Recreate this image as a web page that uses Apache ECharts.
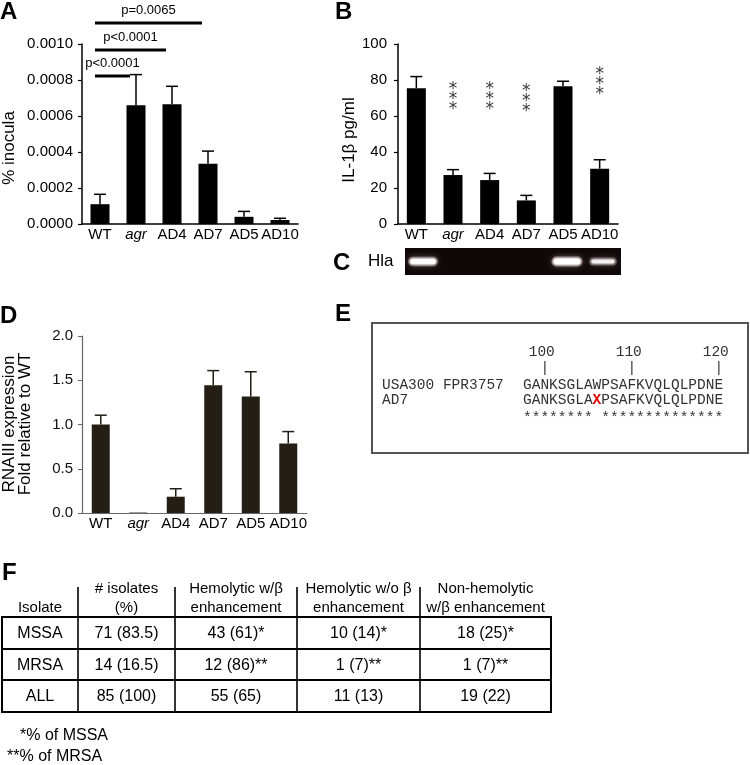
<!DOCTYPE html>
<html><head><meta charset="utf-8">
<script src="https://cdn.jsdelivr.net/npm/echarts@6/dist/echarts.min.js"></script>
<style>html,body{margin:0;padding:0;background:#fff}#c{width:750px;height:765px}</style>
</head><body><div id="c"></div>
<script>
// ---------- DATA ----------
const categories = ['WT', 'agr', 'AD4', 'AD7', 'AD5', 'AD10'];
// Panel A: % inocula (mean, SEM)
const inoculaMean = [0.00011, 0.00066, 0.000665, 0.000335, 0.00004, 0.000022];
const inoculaSem  = [0.000055, 0.00017, 0.0001, 0.00007, 0.00003, 0.00001];
const comparisonsA = ['agr', 'AD4', 'AD7'];
const comparisonLabelsA = ['p<0.0001', 'p<0.0001', 'p=0.0065'];
const comparisonLevelsA = [0.000822, 0.000967, 0.001117];
// Panel B: IL-1β pg/ml
const il1bMean = [75.4, 27.2, 24.4, 13.1, 76.5, 30.7];
const il1bSem  = [6.5, 3.0, 3.7, 2.8, 2.8, 5.0];
const il1bSig  = ['', '***', '***', '***', '', '***'];
const il1bSigLevel = [null, 71.5, 71.5, 70.5, null, 79.5];
// Panel C: Hla band intensity
const hlaIntensity = [0.85, 0, 0, 0, 1, 0.5];
// Panel D: RNAIII expression
const rnaMean = [1.0, 0.005, 0.184, 1.444, 1.316, 0.785];
const rnaSem  = [0.105, 0, 0.09, 0.165, 0.28, 0.135];
// Panel E: sequence alignment
const alignNames = ['USA300 FPR3757', 'AD7'];
const seqRef = 'GANKSGLAWPSAFKVQLQLPDNE';
const seqAD7 = 'GANKSGLAXPSAFKVQLQLPDNE';
const mutationIndex = 8;
const firstResidue = 98;
const rulerMarks = [100, 110, 120];
// Panel F: table
const tableHead1 = ['', '# isolates', 'Hemolytic w/β', 'Hemolytic w/o β', 'Non-hemolytic'];
const tableHead2 = ['Isolate', '(%)', 'enhancement', 'enhancement', 'w/β enhancement'];
const isolateTypes = ['MSSA', 'MRSA', 'ALL'];
const nIsolates = ['71 (83.5)', '14 (16.5)', '85 (100)'];
const hemWithBeta = ['43 (61)*', '12 (86)**', '55 (65)'];
const hemWithoutBeta = ['10 (14)*', '1 (7)**', '11 (13)'];
const nonHemWithBeta = ['18 (25)*', '1 (7)**', '19 (22)'];
const footnotes = ['*% of MSSA', '**% of MRSA'];

// ---------- STYLE ----------
const SANS = "'Liberation Sans', Arial, Helvetica, sans-serif";
const MONO = "'Liberation Mono', 'Courier New', monospace";

const chart = echarts.init(document.getElementById('c'), null, {renderer: 'canvas'});

function catLabel(fs) {
  return {
    fontSize: fs, color: '#000', fontFamily: SANS, margin: 3, interval: 0, hideOverlap: false,
    formatter: v => v === 'agr' ? '{i|agr}' : v,
    rich: {i: {fontStyle: 'italic', fontSize: fs, fontFamily: SANS, color: '#000'}}
  };
}
function errSeries(gi, means, sems, color, lw) {
  return {
    type: 'custom', xAxisIndex: gi, yAxisIndex: gi, z: 1,
    data: means.map((m, i) => [i, m, m + sems[i]]),
    encode: {x: 0, y: 2},
    renderItem: (params, api) => {
      const i = api.value(0), m = api.value(1), u = api.value(2);
      if (!(u > m)) return null;
      const b = api.coord([i, m]), t = api.coord([i, u]);
      return {type: 'group', children: [
        {type: 'line', shape: {x1: b[0], y1: b[1], x2: t[0], y2: t[1]}, style: {stroke: color, lineWidth: lw}},
        {type: 'line', shape: {x1: t[0] - 6, y1: t[1], x2: t[0] + 6, y2: t[1]}, style: {stroke: color, lineWidth: lw}}
      ]};
    }
  };
}

const option = {
  animation: false,
  backgroundColor: '#fff',
  grid: [
    {left: 82, top: 44, width: 216, height: 180},
    {left: 398, top: 44, width: 220, height: 180},
    {left: 405, top: 248, width: 216, height: 27, show: true, backgroundColor: '#0e0808', borderWidth: 0},
    {left: 82, top: 336, width: 225, height: 177}
  ],
  xAxis: [
    {gridIndex: 0, type: 'category', data: categories, axisLine: {lineStyle: {color: '#000', width: 1.5}}, axisTick: {show: false}, axisLabel: catLabel(15)},
    {gridIndex: 1, type: 'category', data: categories, axisLine: {lineStyle: {color: '#000', width: 1.5}}, axisTick: {show: false}, axisLabel: catLabel(15)},
    {gridIndex: 2, type: 'category', data: categories, show: false},
    {gridIndex: 3, type: 'category', data: categories, axisLine: {lineStyle: {color: '#666', width: 1.2}}, axisTick: {show: false}, axisLabel: catLabel(15)}
  ],
  yAxis: [
    {gridIndex: 0, type: 'value', min: 0, max: 0.001, interval: 0.0002, splitLine: {show: false},
      axisLine: {show: true, lineStyle: {color: '#000', width: 1.5}}, axisTick: {show: true, length: 4, lineStyle: {color: '#000', width: 1.2}},
      axisLabel: {fontSize: 15, color: '#000', fontFamily: SANS, margin: 9, formatter: v => v.toFixed(4)}},
    {gridIndex: 1, type: 'value', min: 0, max: 100, interval: 20, splitLine: {show: false},
      axisLine: {show: true, lineStyle: {color: '#000', width: 1.5}}, axisTick: {show: true, length: 4, lineStyle: {color: '#000', width: 1.2}},
      axisLabel: {fontSize: 15, color: '#000', fontFamily: SANS, margin: 11}},
    {gridIndex: 2, type: 'value', min: 0, max: 1, show: false},
    {gridIndex: 3, type: 'value', min: 0, max: 2, interval: 0.5, splitLine: {show: false},
      axisLine: {show: true, lineStyle: {color: '#666', width: 1.2}}, axisTick: {show: true, length: 4, lineStyle: {color: '#666', width: 1}},
      axisLabel: {fontSize: 15, color: '#111', fontFamily: SANS, margin: 9, formatter: v => v.toFixed(1)}}
  ],
  series: [
    {type: 'bar', xAxisIndex: 0, yAxisIndex: 0, data: inoculaMean, barWidth: 19, itemStyle: {color: '#000'}, z: 2},
    errSeries(0, inoculaMean, inoculaSem, '#000', 1.5),
    {type: 'bar', xAxisIndex: 1, yAxisIndex: 1, data: il1bMean, barWidth: 19, itemStyle: {color: '#000'}, z: 2},
    errSeries(1, il1bMean, il1bSem, '#000', 1.5),
    {type: 'scatter', xAxisIndex: 1, yAxisIndex: 1, symbolSize: 0,
      data: il1bSig.map((s, i) => s ? {value: [i, il1bSigLevel[i]], sig: s} : null).filter(Boolean),
      label: {show: true, position: 'inside', formatter: p => p.data.sig.split('').join('\n'), fontSize: 17, lineHeight: 10, color: '#000', fontFamily: "'DejaVu Sans', " + SANS, offset: [0, 4]}},
    {type: 'custom', xAxisIndex: 2, yAxisIndex: 2,
      data: hlaIntensity.map((v, i) => [i, v]), encode: {x: 0, y: 1},
      renderItem: (params, api) => {
        const v = api.value(1);
        if (!v) return null;
        const c = api.coord([api.value(0), 0.5]);
        const w = api.size([1, 0])[0] * (0.55 + 0.2 * v);
        const h = 2 + 4 * v;
        return {type: 'group', children: [
          {type: 'rect', shape: {x: c[0] - w / 2 - 2, y: c[1] - h / 2 - 2, width: w + 4, height: h + 4, r: (h + 4) / 2},
            style: {fill: 'rgba(255,225,225,' + (0.15 + 0.3 * v) + ')', shadowBlur: 6, shadowColor: 'rgba(255,220,220,0.7)'}},
          {type: 'rect', shape: {x: c[0] - w / 2, y: c[1] - h / 2, width: w, height: h, r: h / 2},
            style: {fill: 'rgba(255,255,255,' + (0.55 + 0.45 * v) + ')', shadowBlur: 3, shadowColor: '#fff'}}
        ]};
      }},
    {type: 'bar', xAxisIndex: 3, yAxisIndex: 3, data: rnaMean, barWidth: 18, itemStyle: {color: '#241f15'}, z: 2},
    errSeries(3, rnaMean, rnaSem, '#241f15', 1.5)
  ]
};
chart.setOption(option);

// ---------- GRAPHIC ANNOTATIONS ----------
const g = [];
function txt(x, y, text, o) {
  g.push({type: 'text', x: x, y: y, style: Object.assign({text: text, fill: '#000', font: '15px ' + SANS, align: 'left', verticalAlign: 'middle'}, o || {})});
}
[['A', 0, 12], ['B', 335, 12], ['C', 333, 263], ['D', 0, 316], ['E', 335, 314], ['F', 2, 573]].forEach(l =>
  txt(l[1], l[2], l[0], {font: 'bold 24px ' + SANS}));
function vname(x, y, text) {
  g.push({type: 'text', x: x, y: y, rotation: Math.PI / 2, style: {text: text, fill: '#000', font: '17px ' + SANS, align: 'center', verticalAlign: 'middle'}});
}
vname(9, 148, '% inocula');
vname(349, 140, 'IL-1β pg/ml');
vname(9, 424, 'RNAIII expression');
vname(25, 424, 'Fold relative to WT');
txt(368, 261, 'Hla', {font: '17px ' + SANS});

const px = (gi, x, y) => chart.convertToPixel({gridIndex: gi}, [x, y]);
comparisonsA.forEach((t, k) => {
  const a = px(0, 0, comparisonLevelsA[k]);
  const b = px(0, categories.indexOf(t), comparisonLevelsA[k]);
  const x1 = a[0] - 5, x2 = b[0] - 6, y = a[1];
  g.push({type: 'line', shape: {x1: x1, y1: y, x2: x2, y2: y}, style: {stroke: '#000', lineWidth: 3}});
  txt((x1 + x2) / 2, y - 13, comparisonLabelsA[k], {font: '13px ' + SANS, align: 'center'});
});

g.push({type: 'rect', shape: {x: 372, y: 323, width: 376, height: 130}, style: {fill: 'none', stroke: '#555', lineWidth: 2}});
const monoSize = 14.5, charW = monoSize * 0.6, seqX = 523;
rulerMarks.forEach(m => {
  const cx = seqX + (m - firstResidue + 0.5) * charW;
  txt(cx - 3, 352, String(m), {font: monoSize + 'px ' + MONO, fill: '#333', align: 'center'});
  txt(cx, 368, '|', {font: monoSize + 'px ' + MONO, fill: '#333', align: 'center'});
});
txt(382, 385, alignNames[0], {font: monoSize + 'px ' + MONO, fill: '#333'});
txt(382, 400, alignNames[1], {font: monoSize + 'px ' + MONO, fill: '#333'});
txt(seqX, 385, seqRef, {font: monoSize + 'px ' + MONO, fill: '#333'});
g.push({type: 'text', x: seqX, y: 400, style: {
  text: seqAD7.slice(0, mutationIndex) + '{m|' + seqAD7[mutationIndex] + '}' + seqAD7.slice(mutationIndex + 1),
  font: monoSize + 'px ' + MONO, fill: '#333', verticalAlign: 'middle',
  rich: {m: {fontFamily: MONO, fontSize: monoSize, fontWeight: 'bold', fill: '#e00000', color: '#e00000'}}}});
let stars = '';
for (let i = 0; i < seqRef.length; i++) stars += seqRef[i] === seqAD7[i] ? '*' : ' ';
txt(seqX, 418, stars, {font: monoSize + 'px ' + MONO, fill: '#333'});

const colX = [2, 78, 175, 297, 420, 551];
const rowY = [617, 649, 680, 712];
g.push({type: 'rect', shape: {x: colX[0], y: rowY[0], width: colX[5] - colX[0], height: rowY[3] - rowY[0]}, style: {fill: 'none', stroke: '#000', lineWidth: 2}});
[rowY[1], rowY[2]].forEach(y => g.push({type: 'line', shape: {x1: colX[0], y1: y, x2: colX[5], y2: y}, style: {stroke: '#000', lineWidth: 2}}));
[1, 2, 3, 4].forEach(i => g.push({type: 'line', shape: {x1: colX[i], y1: 587, x2: colX[i], y2: rowY[3]}, style: {stroke: '#000', lineWidth: 1.6}}));
const colC = i => (colX[i] + colX[i + 1]) / 2;
tableHead1.forEach((h, i) => h && txt(colC(i), 589, h, {align: 'center', font: '15px ' + SANS}));
tableHead2.forEach((h, i) => txt(colC(i), 608, h, {align: 'center', font: '15px ' + SANS}));
const cols = [isolateTypes, nIsolates, hemWithBeta, hemWithoutBeta, nonHemWithBeta];
cols.forEach((col, ci) => col.forEach((v, ri) =>
  txt(colC(ci), (rowY[ri] + rowY[ri + 1]) / 2 + 1, v, {align: 'center', font: '16px ' + SANS})));
txt(20, 736, footnotes[0], {font: '16px ' + SANS});
txt(7, 757, footnotes[1], {font: '16px ' + SANS});

chart.setOption({graphic: {elements: g}});
</script></body></html>
